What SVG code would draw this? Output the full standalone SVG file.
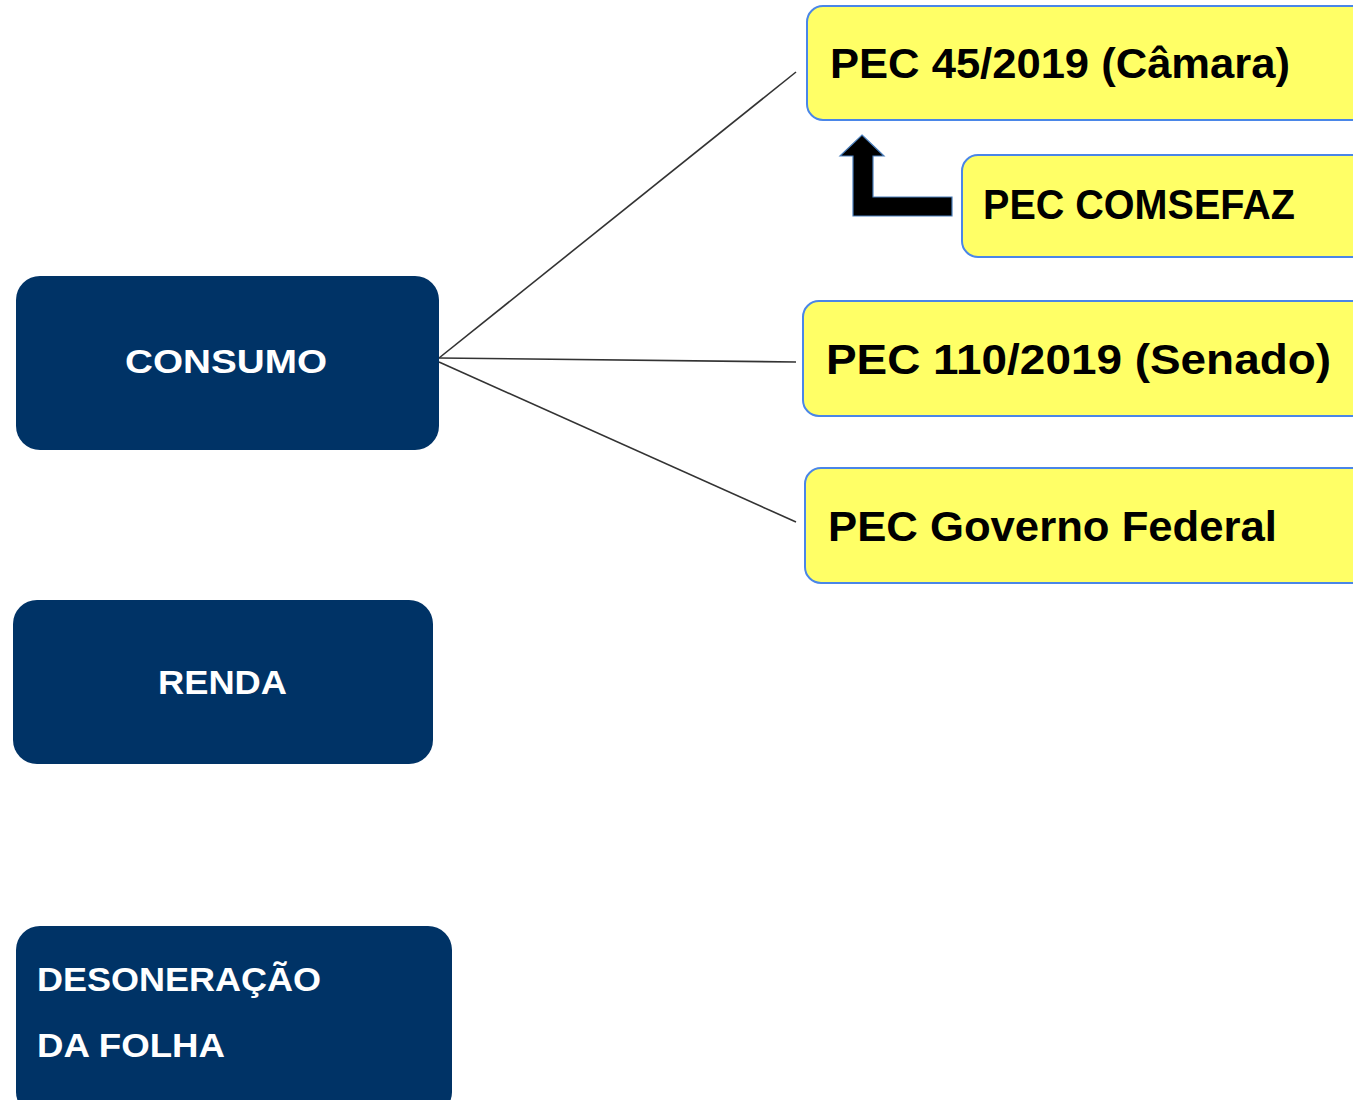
<svg xmlns="http://www.w3.org/2000/svg" width="1353" height="1100" viewBox="0 0 1353 1100">
<style>
.dark{fill:#003366;}
.yel{fill:#FFFF66;stroke:#4A86E8;stroke-width:2;}
.wt{fill:#FFFFFF;font-family:"Liberation Sans",Arial,sans-serif;font-weight:bold;font-size:33px;}
.bt{fill:#000000;font-family:"Liberation Sans",Arial,sans-serif;font-weight:bold;font-size:42px;}
.conn{stroke:#333333;stroke-width:1.6;fill:none;}
</style>
<rect width="1353" height="1100" fill="#FFFFFF"/>
<g id="connectors">
<line class="conn" x1="439" y1="358" x2="796" y2="72"/>
<line class="conn" x1="439" y1="358" x2="796" y2="362"/>
<line class="conn" x1="439" y1="362" x2="796" y2="522"/>
<polygon id="bent-arrow" points="862,135 884,156 873,156 873,197 952,197 952,216 853,216 853,156 840,156" fill="#000000" stroke="#4A7EBB" stroke-width="1.2"/>
</g>
<g id="consumo">
<rect class="dark" x="16" y="276" width="423" height="174" rx="24"/>
<text class="wt" x="125" y="373" textLength="202" lengthAdjust="spacingAndGlyphs">CONSUMO</text>
</g>
<g id="renda">
<rect class="dark" x="13" y="600" width="420" height="164" rx="24"/>
<text class="wt" x="158" y="694" textLength="129" lengthAdjust="spacingAndGlyphs">RENDA</text>
</g>
<g id="desoneracao">
<rect class="dark" x="16" y="926" width="436" height="190" rx="24"/>
<text class="wt" x="37" y="991" textLength="284" lengthAdjust="spacingAndGlyphs">DESONERAÇÃO</text>
<text class="wt" x="37" y="1057" textLength="188" lengthAdjust="spacingAndGlyphs">DA FOLHA</text>
</g>
<g id="pec45">
<rect class="yel" x="807" y="6" width="570" height="114" rx="16"/>
<text class="bt" x="830" y="78" textLength="460" lengthAdjust="spacingAndGlyphs">PEC 45/2019 (Câmara)</text>
</g>
<g id="comsefaz">
<rect class="yel" x="962" y="155" width="420" height="102" rx="16"/>
<text class="bt" x="983" y="219" textLength="312" lengthAdjust="spacingAndGlyphs">PEC COMSEFAZ</text>
</g>
<g id="pec110">
<rect class="yel" x="803" y="301" width="574" height="115" rx="16"/>
<text class="bt" x="826" y="374" textLength="505" lengthAdjust="spacingAndGlyphs">PEC 110/2019 (Senado)</text>
</g>
<g id="governo">
<rect class="yel" x="805" y="468" width="572" height="115" rx="16"/>
<text class="bt" x="828" y="541" textLength="449" lengthAdjust="spacingAndGlyphs">PEC Governo Federal</text>
</g>
</svg>
